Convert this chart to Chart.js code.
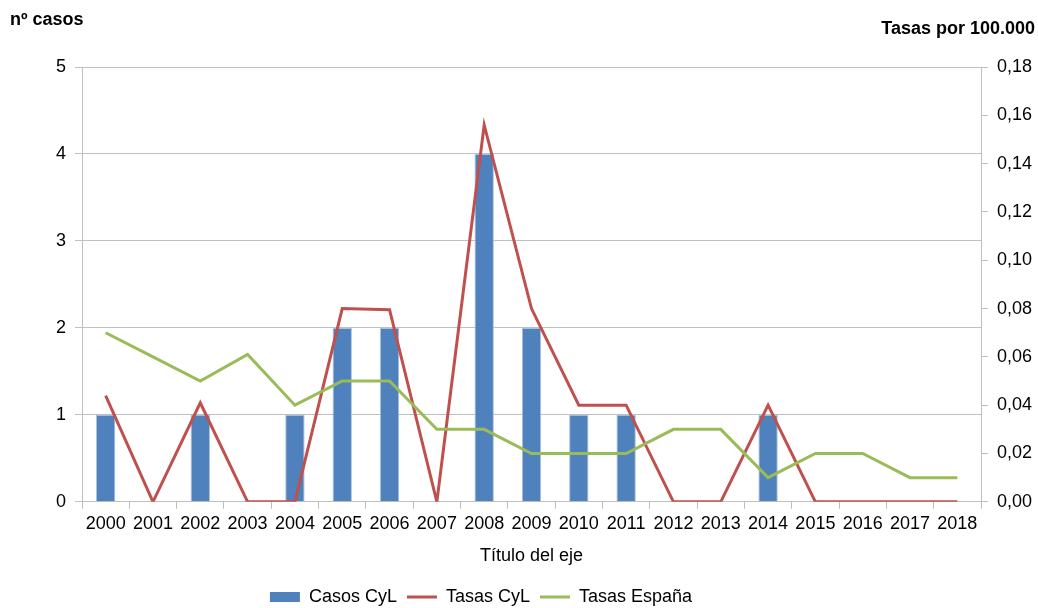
<!DOCTYPE html>
<html lang="es">
<head>
<meta charset="utf-8">
<title>Casos CyL y tasas</title>
<script src="https://cdn.jsdelivr.net/npm/chart.js@4.4.1/dist/chart.umd.min.js"></script>
<style>
  html, body { margin:0; padding:0; background:#fff; overflow:hidden; }
  #wrap { width:1038px; height:608px; }
</style>
</head>
<body>
<div id="wrap"><canvas id="chart" width="1038" height="608"></canvas></div>
<script>
// ==== データ ====
const years     = ['2000','2001','2002','2003','2004','2005','2006','2007','2008','2009','2010','2011','2012','2013','2014','2015','2016','2017','2018'];
const casosCyL  = [1,0,1,0,1,2,2,0,4,2,1,1,0,0,1,0,0,0,0];
const tasasCyL  = [0.044,0,0.041,0,0,0.080,0.0795,0,0.156,0.080,0.040,0.040,0,0,0.040,0,0,0,0];
const tasasEsp  = [0.070,0.060,0.050,0.061,0.040,0.050,0.050,0.030,0.030,0.020,0.020,0.020,0.030,0.030,0.010,0.020,0.020,0.010,0.010];

/* ===== 設定 ===== */
const FONT = '"Liberation Sans", Arial, Helvetica, sans-serif';
const GRID = '#bfbfbf';
const TXT  = '#000';

// 軸見出し（左上・右上）
const cornerTitles = {
  id: 'cornerTitles',
  afterDraw(c) {
    const ctx = c.ctx;
    ctx.save();
    ctx.font = `bold 18px ${FONT}`;
    ctx.fillStyle = TXT;
    ctx.textBaseline = 'middle';
    ctx.textAlign = 'left';
    ctx.fillText('nº casos', 10, 20);
    ctx.textAlign = 'right';
    ctx.fillText('Tasas por 100.000', 1035, 29);
    ctx.restore();
  }
};

// 凡例の高さと位置を少し調整
const legendTweak = {
  id: 'legendTweak',
  afterInit(c) {
    const lg = c.legend;
    if (!lg || lg._tweaked) return;
    const fit = lg.fit.bind(lg);
    const draw = lg.draw.bind(lg);
    lg.fit = function(){ fit(); this.height -= 8; };
    lg.draw = function(a){ c.ctx.save(); c.ctx.translate(-38, 0); draw(a); c.ctx.restore(); };
    lg._tweaked = true;
  }
};

const fmt = v => Number(v).toFixed(2).replace('.', ',');

new Chart(document.getElementById('chart').getContext('2d'), {
  type: 'bar',
  data: {
    labels: years,
    datasets: [
      {
        type: 'bar', label: 'Casos CyL', data: casosCyL, yAxisID: 'y',
        backgroundColor: '#4f81bd', borderColor: '#a9c1df', borderWidth: 1,
        categoryPercentage: 1, barPercentage: 0.41, order: 2
      },
      {
        type: 'line', label: 'Tasas CyL', data: tasasCyL, yAxisID: 'y1',
        borderColor: '#c0504d', backgroundColor: '#c0504d', borderWidth: 3,
        pointRadius: 0, tension: 0, order: 1
      },
      {
        type: 'line', label: 'Tasas España', data: tasasEsp, yAxisID: 'y1',
        borderColor: '#9bbb59', backgroundColor: '#9bbb59', borderWidth: 3,
        pointRadius: 0, tension: 0, order: 0
      }
    ]
  },
  options: {
    responsive: false,
    animation: false,
    layout: { padding: { top: 67, left: 0, right: 0, bottom: 0 } },
    scales: {
      x: {
        offset: true,
        grid: { offset: true, drawOnChartArea: false, drawTicks: true, tickLength: 7, color: GRID },
        border: { display: true, color: GRID, width: 1 },
        ticks: { color: TXT, font: { family: FONT, size: 18 }, padding: 4, maxRotation: 0, autoSkip: false },
        title: { display: true, text: 'Título del eje', color: TXT, font: { family: FONT, size: 18 }, padding: { top: 7, bottom: 11 } }
      },
      y: {
        position: 'left', min: 0, max: 5,
        grid: { color: GRID, tickLength: 7 },
        border: { display: true, color: GRID },
        ticks: { stepSize: 1, color: TXT, font: { family: FONT, size: 18 }, padding: 9 },
        afterFit(s){ s.width = 82; }
      },
      y1: {
        position: 'right', min: 0, max: 0.18,
        grid: { drawOnChartArea: false, color: GRID, tickLength: 7 },
        border: { display: true, color: GRID },
        ticks: { stepSize: 0.02, color: TXT, font: { family: FONT, size: 18 }, padding: 9, callback: v => fmt(v) },
        afterFit(s){ s.width = 57; }
      }
    },
    plugins: {
      legend: {
        position: 'bottom',
        labels: {
          usePointStyle: true, pointStyleWidth: 30, boxHeight: 10, padding: 10,
          color: TXT, font: { family: FONT, size: 18 },
          sort: (a, b) => a.datasetIndex - b.datasetIndex,
          generateLabels(c) {
            const items = Chart.defaults.plugins.legend.labels.generateLabels(c);
            items.forEach(it => {
              const ds = c.data.datasets[it.datasetIndex];
              if (ds.type === 'line') { it.pointStyle = 'line'; it.lineWidth = 3; it.strokeStyle = ds.borderColor; }
              else { it.pointStyle = 'rect'; it.lineWidth = 0; it.fillStyle = ds.backgroundColor; }
            });
            return items;
          }
        }
      },
      tooltip: { enabled: false }
    }
  },
  plugins: [cornerTitles, legendTweak]
});
</script>
</body>
</html>
